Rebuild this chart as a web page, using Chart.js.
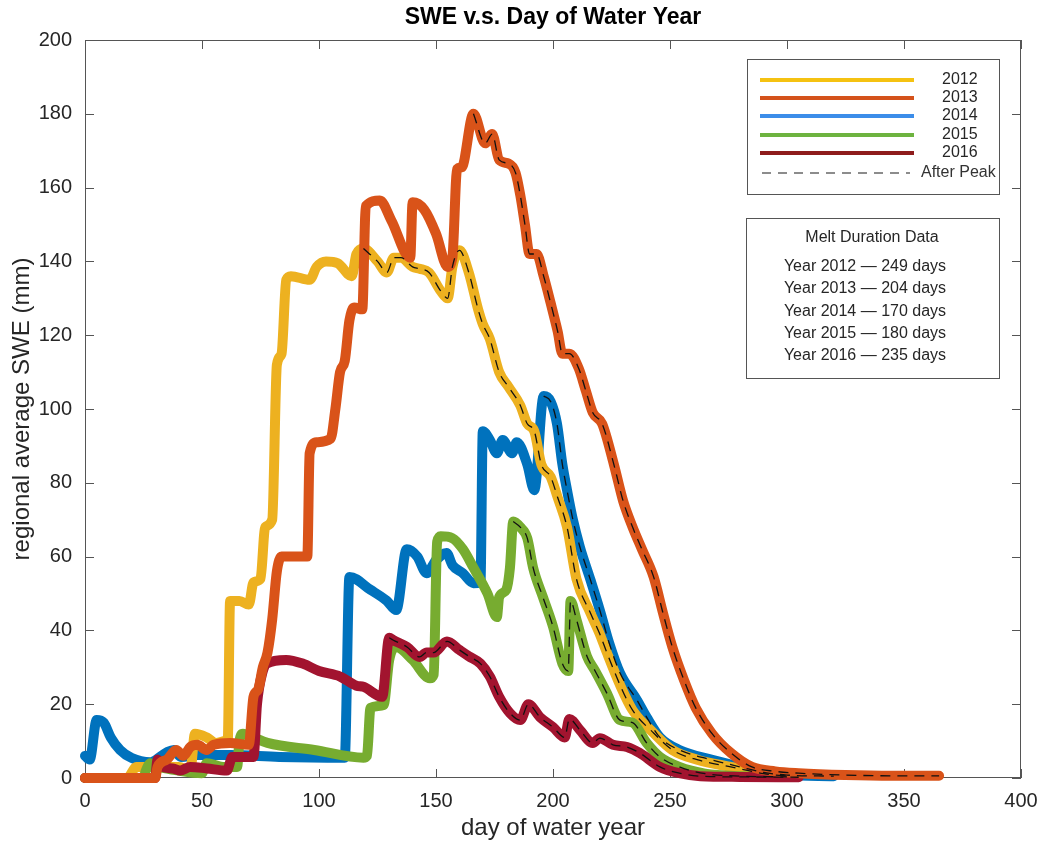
<!DOCTYPE html>
<html>
<head>
<meta charset="utf-8">
<title>SWE v.s. Day of Water Year</title>
<script src="https://cdn.jsdelivr.net/npm/chart.js@4/dist/chart.umd.min.js"></script>
<style>
    html, body { margin: 0; padding: 0; background: #fff; }
    #wrap { width: 1041px; height: 844px; }
</style>
</head>
<body>
<div id="wrap"><canvas id="sweChart" width="1041" height="844"></canvas></div>
<script>
    // Snow water equivalent, one pair of arrays per water year
    const years = ['2012', '2013', '2014', '2015', '2016'];
    const meltDays = [249, 204, 170, 180, 235];

    const days2012 = [0, 18, 22, 30, 40, 45, 47, 52, 56, 60, 61, 62, 66, 70, 72, 75, 77, 80, 82, 84, 86, 88, 96, 99, 103, 108, 114, 116, 119, 125, 129, 132, 135, 140, 143, 147, 152, 155, 157, 160, 164, 168, 170, 173, 177, 181, 186, 189, 192, 195, 199, 202, 206, 210, 216, 220, 223, 229, 234, 243, 251, 262, 276, 290, 300];
    const swe2012 = [0, 0, 3, 3, 3, 2, 12, 11, 9.5, 10, 10, 48, 48, 47, 53, 54, 68, 70, 112, 115, 135, 136, 135, 138.5, 140, 139.5, 136, 142, 143.5, 140, 137, 141, 141, 138.5, 138, 137, 132, 130, 138.5, 143, 137, 127, 123, 119, 110, 106, 101, 96, 94, 85, 81.6, 76, 68, 54, 44.7, 39, 34, 24.7, 18.4, 12.2, 7.6, 4.9, 3, 1.2, 0.5];

    const days2013 = [0, 30, 31, 35, 39, 42, 45, 48, 52, 55, 62, 70, 72, 74, 76, 78, 80, 82, 84, 92, 95, 96, 99, 105, 107, 109, 111, 113, 115, 118.5, 120, 126, 131, 139, 140, 145, 150, 155, 157, 159, 161, 166, 171, 174, 177, 181, 184, 186, 188, 190, 193, 196, 199, 202, 204, 207, 211, 214, 217, 221, 226, 230, 234, 238, 243, 247, 251, 256, 261, 268, 276, 285, 295, 305, 325, 345, 365];
    const swe2013 = [0, 0, 3, 5, 7.6, 6, 8.4, 9, 7.6, 9, 9.5, 9, 22, 24, 30, 34, 43, 56, 60, 60, 60, 88, 91, 92, 100, 110, 113, 124, 127.5, 127, 155, 156.5, 151, 141, 156, 154, 147.5, 138.5, 141, 165, 165.5, 180, 172, 174.5, 167.5, 166.5, 164, 158, 150, 142, 142, 136, 128.7, 121, 115, 115, 111, 105, 99, 96, 85, 75, 68, 62, 54.5, 44.7, 35.5, 26.5, 19, 12, 6.8, 3, 1.8, 1.3, 0.8, 0.6, 0.6];

    const days2014 = [0, 2, 5, 8, 11, 15, 20, 28, 35, 38, 41, 48, 62, 83, 111, 113, 122, 129, 133, 137.5, 142, 146, 150, 154.5, 157, 161.5, 166, 169, 170, 173, 176, 178.5, 182.5, 184.5, 189, 192, 196, 199, 201.7, 204, 206, 208.5, 211.5, 216, 220, 224, 228.6, 236, 240, 245.7, 254, 268, 280, 290, 300, 320];
    const swe2014 = [6, 5, 15.7, 15, 11, 7.6, 5.4, 4.3, 7, 7.6, 5.7, 6.2, 6.2, 5.7, 5.5, 54.5, 51, 48, 45.5, 62, 60, 55.5, 59, 61, 57.7, 55.5, 52.8, 53, 94, 91.6, 88, 91.6, 88, 91, 85, 78, 103.5, 102, 96, 85, 78, 70, 62.6, 53.7, 45.5, 36.6, 28.5, 21, 16.5, 11, 7.6, 4.9, 3, 1.5, 0.8, 0.5];

    const days2015 = [0, 25, 26, 28, 32, 40, 50, 52, 59, 65, 66, 67.5, 72, 78, 98, 119, 120.5, 122, 127.6, 130, 133, 140, 147.4, 149, 150.5, 152, 157, 161.5, 166, 172, 176, 177, 180, 181.6, 183, 186, 189, 191.5, 195.7, 200, 204, 206.5, 207.5, 210, 214.5, 218, 223, 228.6, 234, 240, 245.7, 254, 265, 280, 300];
    const swe2015 = [0, 0, 2, 4, 3, 2, 1.3, 4, 3, 3, 10, 12, 11, 9.5, 7.6, 5.5, 6, 19, 19.8, 32, 35.5, 32, 27, 28, 64, 65.5, 65, 62, 57, 50, 43.6, 49, 51, 57, 69.5, 68, 65, 57, 49, 41, 31, 29, 48, 43, 33, 29, 23, 15.7, 15, 9.5, 5.7, 3, 1.2, 0.5, 0.3];

    const days2016 = [0, 30, 31, 33, 37.6, 40.6, 45, 52, 60.6, 63, 72, 73.5, 76, 77.6, 86, 93, 100, 109, 116, 119, 127, 130, 131.6, 137.6, 143, 146, 149, 154.7, 160, 164, 169, 173, 177, 181.6, 186, 189.5, 194.4, 200, 205, 207, 211.5, 217, 220, 225.6, 231.6, 237, 245.7, 254, 263, 280, 305];
    const swe2016 = [0, 0, 5, 3, 2.6, 2, 3, 2.6, 2, 5.7, 5.7, 20, 29, 31, 32, 31, 29, 27.5, 25, 24.7, 22, 38, 37.4, 35.5, 32.8, 34, 34, 37, 34.7, 33, 31, 27.5, 22, 17.6, 15.7, 20, 16.5, 13.8, 11, 16, 13, 9.5, 10.8, 9, 8.4, 6.8, 3, 1.3, 0.5, 0.3, 0.2];

    const lineColors = ['#EDB120', '#D95319', '#0072BD', '#77AC30', '#A2142F'];
    const keyColors = ['#F5C211', '#D4521B', '#3C8DE9', '#6DB33F', '#8E1C1C'];
    // draw order: orange on top, then dark red, green, yellow, blue
    const lineOrder = [5, 2, 6, 4, 3];

    const FONT = '"Liberation Sans", Helvetica, Arial, sans-serif';
    const INK = '#262626';

    function toPoints(days, swe) {
        return days.map((d, i) => ({ x: d, y: swe[i] }));
    }

    function peakIndex(swe) {
        let k = 0;
        swe.forEach((v, i) => { if (v > swe[k]) k = i; });
        return k;
    }

    const allDays = [days2012, days2013, days2014, days2015, days2016];
    const allSwe = [swe2012, swe2013, swe2014, swe2015, swe2016];

    const datasets = [];
    years.forEach((yr, i) => {
        const pts = toPoints(allDays[i], allSwe[i]);
        datasets.push({
            label: yr,
            data: pts,
            borderColor: lineColors[i],
            borderWidth: 10,
            borderJoinStyle: 'round',
            borderCapStyle: 'round',
            pointRadius: 0,
            fill: false,
            cubicInterpolationMode: 'monotone',
            clip: false,
            order: lineOrder[i]
        });
    });
    // dashed "after peak" overlays
    years.forEach((yr, i) => {
        const pts = toPoints(allDays[i], allSwe[i]);
        datasets.push({
            label: yr + ' after peak',
            data: pts.slice(peakIndex(allSwe[i])),
            borderColor: '#111',
            borderWidth: 1.3,
            borderDash: [10, 7],
            pointRadius: 0,
            fill: false,
            cubicInterpolationMode: 'monotone',
            clip: false,
            order: 0
        });
    });

    // box + inward ticks on all four sides, under the data like MATLAB
    const axesFrame = {
        id: 'axesFrame',
        beforeDatasetsDraw(chart) {
            const { ctx, chartArea: a, scales: { x, y } } = chart;
            ctx.save();
            ctx.strokeStyle = '#555';
            ctx.lineWidth = 1;
            ctx.strokeRect(a.left + 0.5, a.top + 0.5, a.right - a.left - 1, a.bottom - a.top - 1);
            ctx.beginPath();
            x.ticks.forEach(t => {
                const px = Math.round(x.getPixelForValue(t.value)) + 0.5;
                ctx.moveTo(px, a.bottom); ctx.lineTo(px, a.bottom - 9);
                ctx.moveTo(px, a.top); ctx.lineTo(px, a.top + 9);
            });
            y.ticks.forEach(t => {
                const py = Math.round(y.getPixelForValue(t.value)) + 0.5;
                ctx.moveTo(a.left, py); ctx.lineTo(a.left + 9, py);
                ctx.moveTo(a.right, py); ctx.lineTo(a.right - 9, py);
            });
            ctx.stroke();
            ctx.restore();
        }
    };

    // title, key box and melt duration box
    const annotations = {
        id: 'annotations',
        afterDraw(chart) {
            const { ctx, chartArea: a } = chart;
            ctx.save();

            ctx.fillStyle = '#000';
            ctx.font = 'bold 23px ' + FONT;
            ctx.textAlign = 'center';
            ctx.textBaseline = 'middle';
            ctx.fillText('SWE v.s. Day of Water Year', (a.left + a.right) / 2, 18);

            // key
            ctx.fillStyle = '#fff';
            ctx.strokeStyle = '#555';
            ctx.lineWidth = 1;
            ctx.fillRect(747.5, 59.5, 252, 135);
            ctx.strokeRect(747.5, 59.5, 252, 135);
            const keyY = [80, 98, 116, 135, 153];
            ctx.font = '16px ' + FONT;
            ctx.textAlign = 'left';
            years.forEach((yr, i) => {
                ctx.strokeStyle = keyColors[i];
                ctx.lineWidth = 4;
                ctx.beginPath();
                ctx.moveTo(760, keyY[i]);
                ctx.lineTo(914, keyY[i]);
                ctx.stroke();
                ctx.fillStyle = INK;
                ctx.fillText(yr, 942, keyY[i]);
            });
            ctx.strokeStyle = '#8c8c8c';
            ctx.lineWidth = 2;
            ctx.setLineDash([9, 7]);
            ctx.beginPath();
            ctx.moveTo(762, 173);
            ctx.lineTo(910, 173);
            ctx.stroke();
            ctx.setLineDash([]);
            ctx.fillStyle = '#333';
            ctx.fillText('After Peak', 921, 173);

            // melt duration
            ctx.fillStyle = '#fff';
            ctx.strokeStyle = '#555';
            ctx.lineWidth = 1;
            ctx.fillRect(746.5, 218.5, 253, 160);
            ctx.strokeRect(746.5, 218.5, 253, 160);
            ctx.fillStyle = INK;
            ctx.textAlign = 'center';
            ctx.font = '16px ' + FONT;
            ctx.fillText('Melt Duration Data', 872, 238);
            const meltY = [267, 289, 312, 334, 356];
            years.forEach((yr, i) => {
                ctx.fillText('Year ' + yr + ' \u2014 ' + meltDays[i] + ' days', 865, meltY[i]);
            });
            ctx.restore();
        }
    };

    const ctx = document.getElementById('sweChart').getContext('2d');
    new Chart(ctx, {
        type: 'line',
        data: { datasets: datasets },
        options: {
            responsive: false,
            animation: false,
            devicePixelRatio: 1,
            layout: { padding: { top: 40, right: 20, left: 0, bottom: 0 } },
            plugins: {
                legend: { display: false },
                tooltip: { enabled: false },
                title: { display: false }
            },
            scales: {
                x: {
                    type: 'linear',
                    min: 0,
                    max: 400,
                    ticks: { stepSize: 50, color: INK, font: { family: FONT, size: 20 }, padding: 11, maxRotation: 0 },
                    grid: { display: false, drawTicks: false },
                    border: { display: false },
                    title: { display: true, text: 'day of water year', color: INK, font: { family: FONT, size: 24 }, padding: { top: 0, bottom: 1 } },
                    afterFit: s => {
                        s.height = 66;
                        s.paddingLeft = 0;
                        s.paddingRight = 0;
                    }
                },
                y: {
                    min: 0,
                    max: 200,
                    ticks: { stepSize: 20, color: INK, font: { family: FONT, size: 20 }, padding: 13 },
                    grid: { display: false, drawTicks: false },
                    border: { display: false },
                    title: { display: true, text: 'regional average SWE (mm)', color: INK, font: { family: FONT, size: 24 }, padding: { top: 8, bottom: 6 } },
                    afterFit: s => {
                        s.width = 85;
                        s.paddingTop = 0;
                        s.paddingBottom = 0;
                    }
                }
            }
        },
        plugins: [axesFrame, annotations]
    });
</script>
</body>
</html>
